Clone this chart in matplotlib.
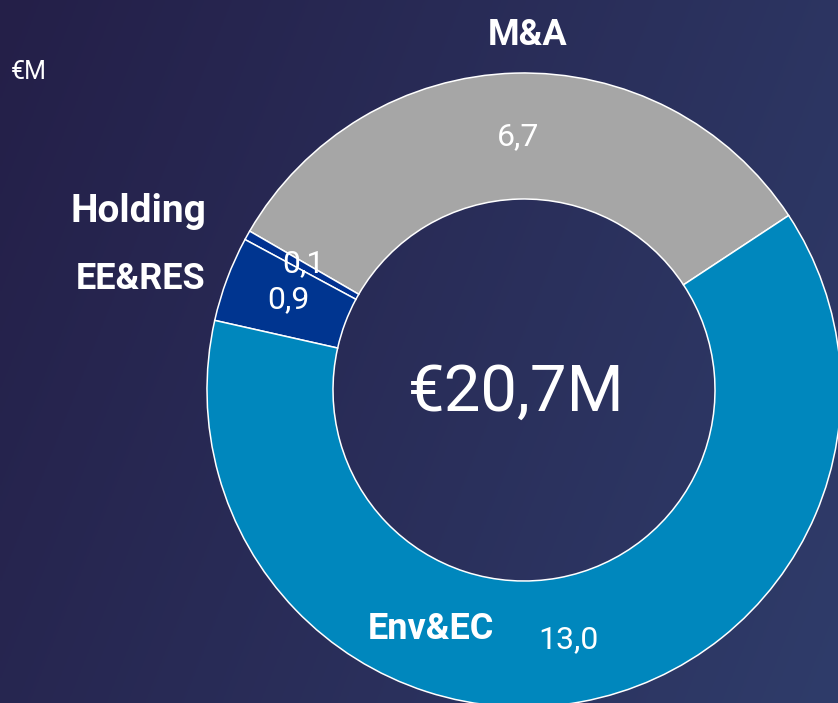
import numpy as np
import matplotlib
matplotlib.use("Agg")
import matplotlib.pyplot as plt
from matplotlib import font_manager

segments = ["M&A", "Holding", "EE&RES", "Env&EC"]
values = [6.7, 0.1, 0.9, 13.0]
value_labels = ["6,7", "0,1", "0,9", "13,0"]
total_label = "€20,7M"
unit_label = "€M"
colors = ["#A6A6A6", "#003090", "#003590", "#0087BD"]

names = {f.name for f in font_manager.fontManager.ttflist}
fam = [f for f in ["Liberation Sans Narrow", "DejaVu Sans Condensed", "Roboto", "DejaVu Sans"] if f in names]
plt.rcParams['font.family'] = fam

W, H = 838, 703
fig = plt.figure(figsize=(W / 100, H / 100), dpi=100)
ax = fig.add_axes([0, 0, 1, 1])
ax.set_xlim(0, W)
ax.set_ylim(0, H)
ax.axis("off")

# background gradient
xs = np.linspace(0, 1, 300)
ys = np.linspace(0, 1, 300)
X, Y = np.meshgrid(xs, ys)
t = np.clip(0.75 * X + 0.25 * (1 - Y), 0, 1)
c0 = np.array([36, 31, 72]) / 255
c1 = np.array([47, 60, 106]) / 255
img = c0[None, None, :] * (1 - t[..., None]) + c1[None, None, :] * t[..., None]
ax.imshow(img, extent=[0, W, 0, H], origin="lower", aspect="auto", zorder=0)

cx, cy = 524, H - 390
R = 317
wedges, _ = ax.pie(values, colors=colors, startangle=33.4, counterclock=True,
                   center=(cx, cy), radius=R, frame=True,
                   wedgeprops=dict(width=R - 191, edgecolor="white", linewidth=1.1))
for w in wedges:
    w.set_zorder(2)
ax.set_xlim(0, W)
ax.set_ylim(0, H)
ax.set_aspect("auto")
ax.axis("off")

def T(x, y, s, size, bold=False, ha="center"):
    ax.text(x, H - y, s, color="white", fontsize=size, ha=ha, va="center",
            fontweight="bold" if bold else "normal", zorder=5)

T(528, 35, segments[0], 26, bold=True)
T(206, 211, segments[1], 28, bold=True, ha="right")
T(205, 279, segments[2], 26, bold=True, ha="right")
T(431, 629, segments[3], 26, bold=True)
T(518, 137, value_labels[0], 23)
T(303, 264, value_labels[1], 23)
T(288, 300, value_labels[2], 23)
T(568, 640, value_labels[3], 23)
T(516, 393, total_label, 47)
T(29, 72, unit_label, 18)

fig.savefig("out.png", dpi=100)
